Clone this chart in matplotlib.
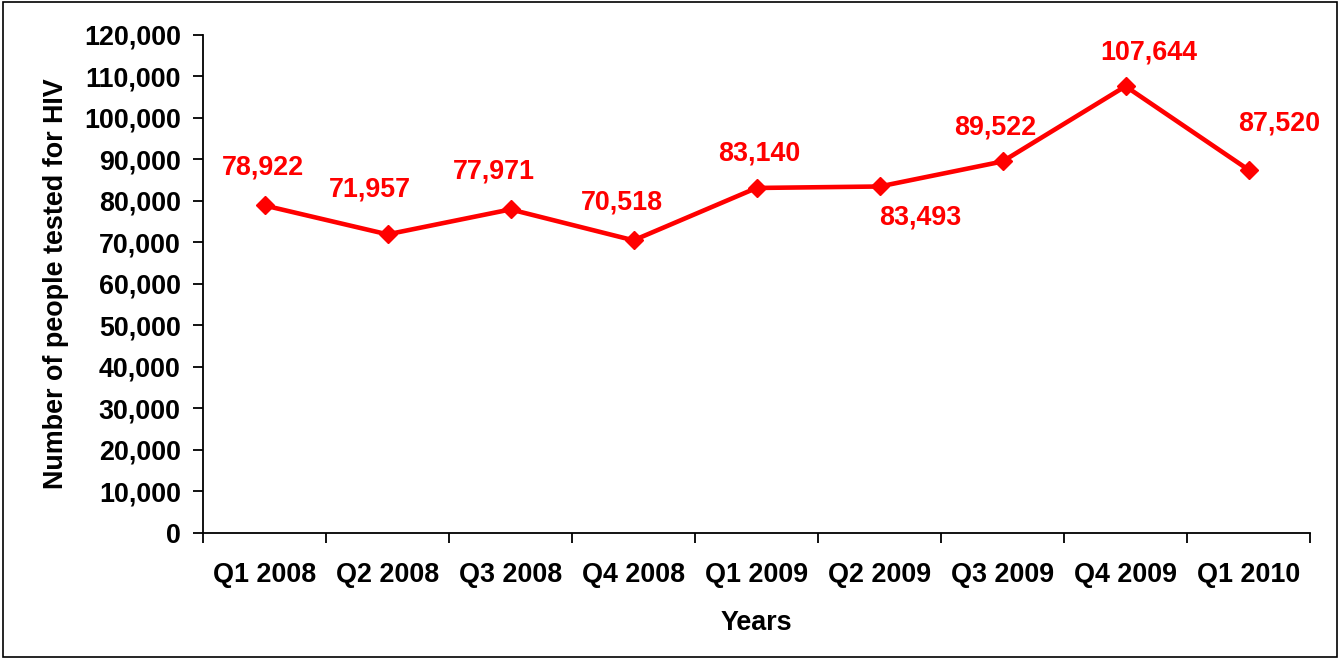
import numpy as np
import matplotlib
matplotlib.use('Agg')
from matplotlib import pyplot as plt
from matplotlib.patches import Rectangle
from matplotlib.ticker import FuncFormatter, FixedLocator

quarters = ['Q1 2008', 'Q2 2008', 'Q3 2008', 'Q4 2008', 'Q1 2009',
            'Q2 2009', 'Q3 2009', 'Q4 2009', 'Q1 2010']
tested = [78922, 71957, 77971, 70518, 83140, 83493, 89522, 107644, 87520]
# label offsets in points (dx, dy)
label_offsets = [(-1, 27), (-13, 32), (-12, 27), (-8, 27), (2, 24.5),
                 (29, -22), (-5, 24.5), (17, 24.5), (22, 33)]

plt.rcParams['font.family'] = ['Liberation Sans', 'DejaVu Sans']
plt.rcParams['font.weight'] = 'bold'
fs = 19.4

fig = plt.figure(figsize=(13.41, 6.59), dpi=100)
ax = fig.add_axes([0.1514, 0.1912, 0.8255, 0.7557])

x = np.arange(len(quarters))
ax.plot(x, tested, color='#FF0000', lw=3.3, marker='D', ms=9, zorder=3)

for xi, v, (dx, dy) in zip(x, tested, label_offsets):
    ax.annotate('{:,}'.format(v), (xi, v), xytext=(dx, dy), textcoords='offset points',
                ha='center', va='center', color='#FF0000', fontsize=fs, fontweight='bold')

ax.set_xlim(-0.5, len(quarters) - 0.5)
ax.set_ylim(0, 120000)
ax.set_yticks(np.arange(0, 120001, 10000))
ax.yaxis.set_major_formatter(FuncFormatter(lambda v, p: '{:,}'.format(int(v))))
ax.xaxis.set_major_locator(FixedLocator(np.arange(-0.5, len(quarters), 1)))
ax.xaxis.set_major_formatter(FuncFormatter(lambda v, p: ''))
ax.set_xticks(x, minor=True)
ax.set_xticklabels(quarters, minor=True)
ax.tick_params(axis='x', which='major', direction='out', length=7, width=1.3)
ax.tick_params(axis='x', which='minor', length=0, pad=21, labelsize=fs)
ax.tick_params(axis='y', direction='out', length=7, width=1.3, labelsize=fs, pad=9)

ax.spines['top'].set_visible(False)
ax.spines['right'].set_visible(False)
ax.spines['left'].set_linewidth(1.3)
ax.spines['bottom'].set_linewidth(1.3)

ax.set_xlabel('Years', fontsize=fs, fontweight='bold', labelpad=16)
ax.set_ylabel('Number of people tested for HIV', fontsize=fs, fontweight='bold', labelpad=11)

fig.patches.append(Rectangle((0.002, 0.003), 0.995, 0.994, transform=fig.transFigure,
                             fill=False, edgecolor='black', lw=1.2))

fig.savefig('out.png', dpi=100)
